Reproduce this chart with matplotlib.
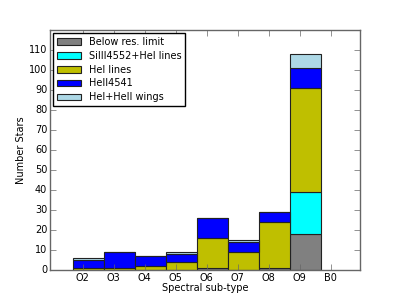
import numpy as np
import matplotlib
matplotlib.use('Agg')
import matplotlib.pyplot as plt

plt.style.use('classic')
plt.rcParams['font.size'] = 7

subtypes = ['O2', 'O3', 'O4', 'O5', 'O6', 'O7', 'O8', 'O9', 'B0']
below_res = [0, 0, 0, 0, 1, 0, 1, 18]
si_he = [0, 0, 0, 0, 0, 0, 0, 21]
he_i = [1, 1, 2, 4, 15, 9, 23, 52]
he_ii = [4, 8, 5, 4, 10, 5, 5, 10]
wings = [1, 0, 0, 1, 0, 1, 0, 7]

labels = ['Below res. limit', 'SiIII4552+HeI lines', 'HeI lines', 'HeII4541', 'HeI+HeII wings']
colors = ['gray', 'cyan', 'y', 'blue', 'lightblue']
series = [below_res, si_he, he_i, he_ii, wings]

x = np.arange(len(below_res))
hf1 = plt.figure(figsize=(4, 3), facecolor='w', dpi=100)
ax = hf1.add_subplot(111)
bottom = np.zeros(len(x))
for vals, lab, c in zip(series, labels, colors):
	ax.bar(x, vals, width=1.0, bottom=bottom, color=c, label=lab, align='edge', edgecolor='#222222', linewidth=0.8)
	bottom += np.array(vals)

for sp in ax.spines.values():
	sp.set_color('0.4')
ax.tick_params(colors='0.4', labelcolor='k', pad=2)
ax.set_xticks(np.arange(len(subtypes)) + 0.3)
ax.set_xticklabels(subtypes)
ax.set_xlim(-0.75, 9.25)
ax.set_ylim(0, 120)
ax.set_yticks(np.arange(0, 111, 10))
ax.set_xlabel('Spectral sub-type', fontsize=7, labelpad=0)
ax.set_ylabel('Number Stars', fontsize=7, labelpad=2)
ax.legend(loc=2, fontsize=7, fancybox=False, borderaxespad=0.3, handlelength=2.5, labelspacing=0.4)
hf1.savefig('out.png', dpi=100)
plt.close(hf1)
